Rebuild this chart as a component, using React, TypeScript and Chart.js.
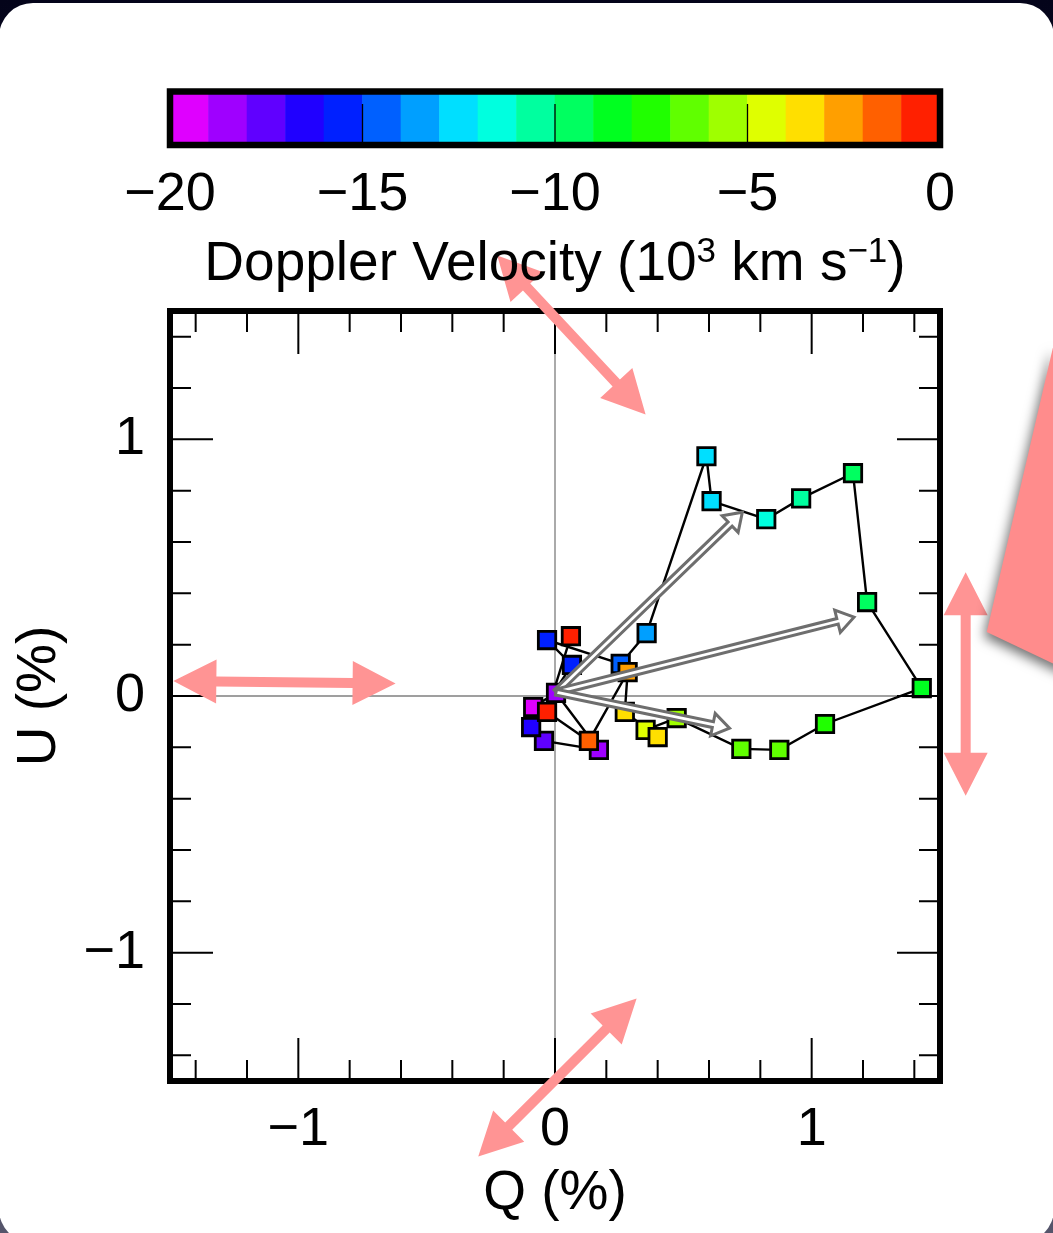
import React, { useEffect, useRef } from "react";
import { Chart, registerables } from "chart.js";

Chart.register(...registerables);

const W = 1053;
const H = 1233;
const FONT = '"Liberation Sans", Arial, Helvetica, sans-serif';

// Doppler velocity of each sample (10^3 km/s)
const VELOCITY = [
  -19.6, -18.9, -18.1, -17.4, -16.6, -15.9, -15.1, -14.4, -13.6, -12.9,
  -12.1, -11.4, -10.6, -9.9, -9.1, -8.4, -7.6, -6.9, -6.1, -5.4,
  -4.6, -3.9, -3.1, -2.4, -1.6, -0.9, -0.1,
];
// Stokes Q (%)
const Q_VALUES = [
  -0.085, 0.004, 0.171, -0.043, -0.093, 0.066, -0.031, 0.256, 0.357, 0.59,
  0.61, 0.823, 0.959, 1.161, 1.216, 1.429, 1.052, 0.874, 0.726, 0.474,
  0.353, 0.4, 0.272, 0.283, 0.132, -0.031, 0.062,
];
// Stokes U (%)
const U_VALUES = [
  -0.043, 0.012, -0.21, -0.175, -0.121, 0.121, 0.218, 0.125, 0.245, 0.934,
  0.759, 0.689, 0.77, 0.868, 0.366, 0.031, -0.109, -0.21, -0.206, -0.086,
  -0.132, -0.16, -0.062, 0.093, -0.175, -0.062, 0.233,
];

// colour bar
const CBAR_MIN = -20;
const CBAR_MAX = 0;
const CBAR_COLORS = [
  "#DF00FF", "#9F00FF", "#6000FF", "#2000FF", "#0020FF",
  "#0060FF", "#009FFF", "#00DFFF", "#00FFDF", "#00FF9F",
  "#00FF60", "#00FF20", "#20FF00", "#60FF00", "#9FFF00",
  "#DFFF00", "#FFDF00", "#FF9F00", "#FF6000", "#FF2000",
];
const CBAR_TICKS = [-20, -15, -10, -5, 0];
const CBAR_TITLE = [
  { text: "Doppler Velocity (10", sup: false },
  { text: "3", sup: true },
  { text: " km s", sup: false },
  { text: "\u22121", sup: true },
  { text: ")", sup: false },
];

// axes
const AXIS_MIN = -1.5;
const AXIS_MAX = 1.5;
const Q_TICKS = [-1, 0, 1];
const U_TICKS = [-1, 0, 1];
const MINOR_TICKS = [-1.4, -1.2, -1, -0.8, -0.6, -0.4, -0.2, 0, 0.2, 0.4, 0.6, 0.8, 1, 1.2, 1.4];

// grey mean-polarisation arrows (from origin)
const ARROW_START = [0.004, 0.015];
const ARROW_Q = [0.73, 1.165, 0.68];
const ARROW_U = [0.716, 0.307, -0.125];

// pink double-headed annotation arrows (in Q/U coordinates)
const PINK_FROM_Q = [-0.225, -1.487, 1.6, 0.318];
const PINK_FROM_U = [1.716, 0.058, 0.482, -1.179];
const PINK_TO_Q = [0.353, -0.621, 1.6, -0.299];
const PINK_TO_U = [1.097, 0.049, -0.389, -1.794];
// pink wedge at right edge
const WEDGE_Q = [1.942, 1.682, 2.078];
const WEDGE_U = [1.366, 0.249, 0.062];

const fmt = (v: number) => String(v).replace("-", "\u2212");

const colorFor = (v: number) => {
  const n = CBAR_COLORS.length;
  let i = Math.floor(((v - CBAR_MIN) / (CBAR_MAX - CBAR_MIN)) * n);
  i = Math.max(0, Math.min(n - 1, i));
  return CBAR_COLORS[i];
};

function grayArrow(ctx: CanvasRenderingContext2D, x0: number, y0: number, x1: number, y1: number) {
  const dx = x1 - x0;
  const dy = y1 - y0;
  const len = Math.hypot(dx, dy);
  const ux = dx / len;
  const uy = dy / len;
  const nx = -uy;
  const ny = ux;
  const sw = 2.9;
  const hw = 11.5;
  const hl = 17;
  const bx = x1 - ux * hl;
  const by = y1 - uy * hl;
  ctx.beginPath();
  ctx.moveTo(x0 + nx * sw, y0 + ny * sw);
  ctx.lineTo(bx + nx * sw, by + ny * sw);
  ctx.lineTo(bx + nx * hw, by + ny * hw);
  ctx.lineTo(x1, y1);
  ctx.lineTo(bx - nx * hw, by - ny * hw);
  ctx.lineTo(bx - nx * sw, by - ny * sw);
  ctx.lineTo(x0 - nx * sw, y0 - ny * sw);
  ctx.closePath();
  ctx.fillStyle = "#ffffff";
  ctx.fill();
  ctx.lineWidth = 3;
  ctx.strokeStyle = "#6e6e6e";
  ctx.lineJoin = "miter";
  ctx.stroke();
}

function pinkArrow(ctx: CanvasRenderingContext2D, x0: number, y0: number, x1: number, y1: number) {
  const dx = x1 - x0;
  const dy = y1 - y0;
  const len = Math.hypot(dx, dy);
  const ux = dx / len;
  const uy = dy / len;
  const nx = -uy;
  const ny = ux;
  const sw = 5;
  const hw = 22;
  const hl = 43;
  const ax = x0 + ux * hl;
  const ay = y0 + uy * hl;
  const bx = x1 - ux * hl;
  const by = y1 - uy * hl;
  ctx.beginPath();
  ctx.moveTo(x0, y0);
  ctx.lineTo(ax + nx * hw, ay + ny * hw);
  ctx.lineTo(ax + nx * sw, ay + ny * sw);
  ctx.lineTo(bx + nx * sw, by + ny * sw);
  ctx.lineTo(bx + nx * hw, by + ny * hw);
  ctx.lineTo(x1, y1);
  ctx.lineTo(bx - nx * hw, by - ny * hw);
  ctx.lineTo(bx - nx * sw, by - ny * sw);
  ctx.lineTo(ax - nx * sw, ay - ny * sw);
  ctx.lineTo(ax - nx * hw, ay - ny * hw);
  ctx.closePath();
  ctx.fillStyle = "#FF9494";
  ctx.fill();
}

const decorPlugin = {
  id: "decor",
  beforeDatasetsDraw(chart: any) {
    const { ctx, chartArea: a, scales } = chart;
    const xs = scales.x;
    const ys = scales.y;
    ctx.save();
    const x0 = xs.getPixelForValue(0);
    ctx.strokeStyle = "rgba(0,0,0,0.42)";
    ctx.lineWidth = 1.6;
    ctx.beginPath();
    ctx.moveTo(x0, a.top);
    ctx.lineTo(x0, a.bottom);
    ctx.stroke();
    const y0 = ys.getPixelForValue(0);
    ctx.strokeStyle = "rgba(0,0,0,0.75)";
    ctx.lineWidth = 1.2;
    ctx.beginPath();
    ctx.moveTo(a.left, y0);
    ctx.lineTo(a.right, y0);
    ctx.stroke();
    ctx.restore();
  },
  afterDatasetsDraw(chart: any) {
    const { ctx, chartArea: a, scales } = chart;
    const xs = scales.x;
    const ys = scales.y;
    ctx.save();

    // grey arrows
    const sx = xs.getPixelForValue(ARROW_START[0]);
    const sy = ys.getPixelForValue(ARROW_START[1]);
    for (let i = 0; i < ARROW_Q.length; i++) {
      grayArrow(ctx, sx, sy, xs.getPixelForValue(ARROW_Q[i]), ys.getPixelForValue(ARROW_U[i]));
    }

    // inward ticks on all four sides
    ctx.strokeStyle = "#000";
    ctx.lineWidth = 2;
    const major = 43;
    const minor = 21;
    ctx.beginPath();
    for (const v of MINOR_TICKS) {
      const isMajor = Q_TICKS.includes(v);
      const L = isMajor ? major : minor;
      const px = xs.getPixelForValue(v);
      ctx.moveTo(px, a.bottom);
      ctx.lineTo(px, a.bottom - L);
      ctx.moveTo(px, a.top);
      ctx.lineTo(px, a.top + L);
      const isMajorU = U_TICKS.includes(v);
      const LU = isMajorU ? major : minor;
      const py = ys.getPixelForValue(v);
      ctx.moveTo(a.left, py);
      ctx.lineTo(a.left + LU, py);
      ctx.moveTo(a.right, py);
      ctx.lineTo(a.right - LU, py);
    }
    ctx.stroke();

    // frame
    ctx.lineWidth = 6;
    ctx.strokeStyle = "#000";
    ctx.lineJoin = "miter";
    ctx.strokeRect(a.left, a.top, a.right - a.left, a.bottom - a.top);

    // colour bar
    const cbTop = a.top - 219.5;
    const cbBot = a.top - 166;
    const cbL = a.left;
    const cbR = a.right;
    const n = CBAR_COLORS.length;
    const segW = (cbR - cbL) / n;
    for (let i = 0; i < n; i++) {
      ctx.fillStyle = CBAR_COLORS[i];
      ctx.fillRect(cbL + i * segW - 0.3, cbTop, segW + 0.6, cbBot - cbTop);
    }
    ctx.strokeStyle = "#000";
    ctx.lineWidth = 1.3;
    ctx.beginPath();
    for (const t of CBAR_TICKS) {
      const px = cbL + ((t - CBAR_MIN) / (CBAR_MAX - CBAR_MIN)) * (cbR - cbL);
      ctx.moveTo(px, cbBot);
      ctx.lineTo(px, cbBot - 41);
    }
    ctx.stroke();
    ctx.lineWidth = 6.5;
    ctx.strokeRect(cbL, cbTop, cbR - cbL, cbBot - cbTop);

    ctx.fillStyle = "#000";
    ctx.font = `54px ${FONT}`;
    ctx.textAlign = "center";
    ctx.textBaseline = "alphabetic";
    for (const t of CBAR_TICKS) {
      const px = cbL + ((t - CBAR_MIN) / (CBAR_MAX - CBAR_MIN)) * (cbR - cbL);
      ctx.fillText(fmt(t), px, a.top - 101);
    }

    // pink annotations
    for (let i = 0; i < PINK_FROM_Q.length; i++) {
      pinkArrow(
        ctx,
        xs.getPixelForValue(PINK_FROM_Q[i]),
        ys.getPixelForValue(PINK_FROM_U[i]),
        xs.getPixelForValue(PINK_TO_Q[i]),
        ys.getPixelForValue(PINK_TO_U[i])
      );
    }
    ctx.save();
    ctx.shadowColor = "rgba(0,0,0,0.55)";
    ctx.shadowBlur = 12;
    ctx.shadowOffsetX = -3;
    ctx.shadowOffsetY = 5;
    ctx.fillStyle = "#FF8C8C";
    ctx.beginPath();
    WEDGE_Q.forEach((q, i) => {
      const px = xs.getPixelForValue(q);
      const py = ys.getPixelForValue(WEDGE_U[i]);
      if (i === 0) ctx.moveTo(px, py);
      else ctx.lineTo(px, py);
    });
    ctx.closePath();
    ctx.fill();
    ctx.restore();

    // colour-bar title with superscripts
    const mainFont = `55px ${FONT}`;
    const supFont = `35px ${FONT}`;
    let total = 0;
    const widths: number[] = [];
    for (const p of CBAR_TITLE) {
      ctx.font = p.sup ? supFont : mainFont;
      const w = ctx.measureText(p.text).width;
      widths.push(w);
      total += w;
    }
    let cx = (a.left + a.right) / 2 - total / 2;
    const base = a.top - 31;
    ctx.textAlign = "left";
    ctx.fillStyle = "#000";
    CBAR_TITLE.forEach((p, i) => {
      ctx.font = p.sup ? supFont : mainFont;
      ctx.fillText(p.text, cx, p.sup ? base - 18 : base);
      cx += widths[i];
    });

    ctx.restore();
  },
};

export default function App() {
  const ref = useRef<HTMLCanvasElement | null>(null);

  useEffect(() => {
    if (!ref.current) return;
    const chart = new Chart(ref.current, {
      type: "scatter",
      data: {
        datasets: [
          {
            data: Q_VALUES.map((q, i) => ({ x: q, y: U_VALUES[i] })),
            showLine: true,
            borderColor: "#000",
            borderWidth: 2.4,
            tension: 0,
            pointStyle: "rect",
            pointRadius: 12.3,
            pointBorderWidth: 2.8,
            pointBorderColor: "#000",
            pointBackgroundColor: VELOCITY.map(colorFor),
            clip: false,
          } as any,
        ],
      },
      options: {
        responsive: false,
        maintainAspectRatio: false,
        animation: false,
        events: [],
        devicePixelRatio: 1,
        layout: { padding: { left: 0, top: 311, right: 113, bottom: 0 } },
        plugins: { legend: { display: false }, tooltip: { enabled: false } },
        scales: {
          x: {
            type: "linear",
            min: AXIS_MIN,
            max: AXIS_MAX,
            grid: { display: false, drawTicks: false },
            border: { display: false },
            afterBuildTicks: (s: any) => {
              s.ticks = Q_TICKS.map((v) => ({ value: v }));
            },
            afterFit: (s: any) => {
              s.height = 152;
            },
            ticks: {
              autoSkip: false,
              maxRotation: 0,
              padding: 17,
              color: "#000",
              font: { family: FONT, size: 54 },
              callback: (v: any) => fmt(Number(v)),
            },
            title: {
              display: true,
              text: "Q (%)",
              color: "#000",
              font: { family: FONT, size: 55 },
              padding: { top: 0, bottom: 6 },
            },
          },
          y: {
            type: "linear",
            min: AXIS_MIN,
            max: AXIS_MAX,
            grid: { display: false, drawTicks: false },
            border: { display: false },
            afterBuildTicks: (s: any) => {
              s.ticks = U_TICKS.map((v) => ({ value: v }));
            },
            afterFit: (s: any) => {
              s.width = 170;
            },
            ticks: {
              autoSkip: false,
              padding: 25,
              color: "#000",
              font: { family: FONT, size: 54 },
              callback: (v: any) => fmt(Number(v)),
            },
            title: {
              display: true,
              text: "U (%)",
              color: "#000",
              font: { family: FONT, size: 55 },
              padding: { top: 7, bottom: 0 },
            },
          },
        },
      } as any,
      plugins: [decorPlugin],
    });
    return () => chart.destroy();
  }, []);

  return (
    <div
      style={{
        position: "fixed",
        left: 0,
        top: 0,
        width: W,
        height: H,
        overflow: "hidden",
        background: "linear-gradient(to bottom, #04041a 0%, #15152c 45%, #55556b 100%)",
      }}
    >
      <div
        style={{
          position: "absolute",
          left: -1,
          top: 3,
          width: W + 2,
          height: 1240,
          background: "#ffffff",
          borderRadius: 34,
        }}
      />
      <canvas
        ref={ref}
        width={W}
        height={H}
        style={{ position: "absolute", left: 0, top: 0, width: W, height: H }}
      />
    </div>
  );
}
